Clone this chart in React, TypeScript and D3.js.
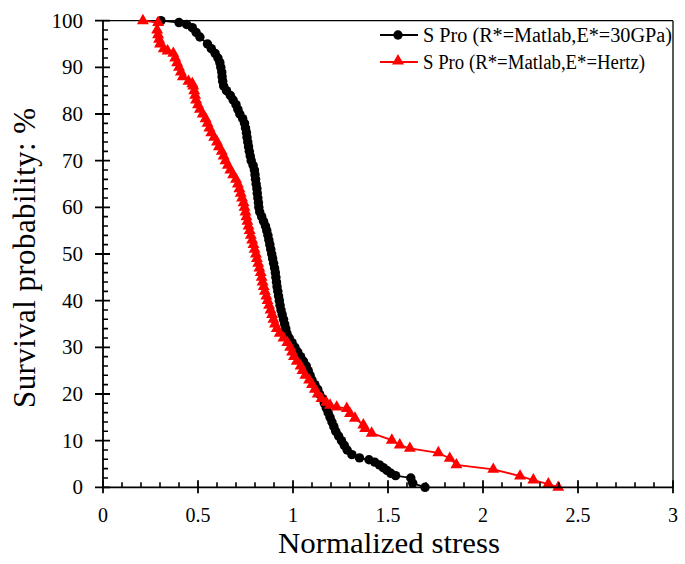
import React from "react";
import * as d3 from "d3";

// Black series: S Pro (R*=Matlab,E*=30GPa)
const blackX = [
  0.305, 0.4, 0.44, 0.47, 0.49, 0.51, 0.55, 0.57, 0.59, 0.605, 0.615, 0.62, 0.625, 0.627, 0.63, 0.635,
  0.65, 0.67, 0.685, 0.7, 0.71, 0.72, 0.735, 0.745, 0.75, 0.755, 0.758, 0.762, 0.766, 0.77, 0.775,
  0.78, 0.79, 0.797, 0.8, 0.803, 0.806, 0.81, 0.812, 0.815, 0.818, 0.82, 0.825, 0.835, 0.845, 0.855,
  0.862, 0.868, 0.873, 0.878, 0.883, 0.888, 0.893, 0.898, 0.903, 0.907, 0.91, 0.913, 0.916, 0.92,
  0.924, 0.928, 0.932, 0.937, 0.943, 0.95, 0.956, 0.962, 0.968, 0.98, 0.995, 1.01, 1.025, 1.04,
  1.055, 1.07, 1.08, 1.09, 1.1, 1.115, 1.13, 1.14, 1.155, 1.165, 1.175, 1.185, 1.195, 1.205, 1.215,
  1.225, 1.24, 1.255, 1.27, 1.285, 1.31, 1.35, 1.4, 1.43, 1.455, 1.475, 1.495, 1.515, 1.54, 1.62,
  1.63, 1.695,
];
const blackY = [
  100, 99.6, 99.2, 98.5, 97.5, 96.5, 95, 94, 93, 92, 91, 90, 89, 88, 87, 86,
  85, 84, 83, 82, 81, 80, 79, 78, 77, 76, 75, 74, 73, 72, 71,
  70, 69, 68, 67, 66, 65, 64, 63, 62, 61, 60, 59, 58, 57, 56,
  55, 54, 53, 52, 51, 50, 49, 48, 47, 46, 45, 44, 43, 42,
  41, 40, 39, 38, 37, 36, 35, 34, 33, 32, 31, 30, 29, 28,
  27, 26, 25, 24, 23, 22, 21, 20, 19, 18, 17, 16, 15, 14, 13,
  12, 11, 10, 9, 8, 7, 6.3, 5.9, 5.4, 4.8, 4.2, 3.6, 3.0, 2.5, 2.0,
  0.9, 0,
];

// Red series: S Pro (R*=Matlab,E*=Hertz)
const redX = [
  0.21, 0.29, 0.285, 0.29, 0.295, 0.3, 0.32, 0.34, 0.37, 0.38, 0.39, 0.4, 0.41, 0.42, 0.45,
  0.47, 0.475, 0.48, 0.485, 0.49, 0.5, 0.51, 0.525, 0.54, 0.55, 0.56, 0.57, 0.585, 0.6, 0.61,
  0.625, 0.635, 0.645, 0.657, 0.67, 0.685, 0.7, 0.71, 0.718, 0.725, 0.732, 0.74, 0.745, 0.75,
  0.755, 0.76, 0.766, 0.772, 0.778, 0.785, 0.792, 0.798, 0.805, 0.81, 0.817, 0.823, 0.83, 0.835,
  0.84, 0.846, 0.852, 0.86, 0.866, 0.874, 0.882, 0.89, 0.897, 0.905, 0.915, 0.93, 0.95, 0.97,
  0.985, 0.995, 1.005, 1.02, 1.04, 1.05, 1.065, 1.085, 1.1, 1.115, 1.13, 1.15, 1.175, 1.195, 1.23,
  1.283, 1.3, 1.326, 1.37, 1.38, 1.414, 1.52, 1.562, 1.615, 1.765, 1.825, 1.86, 2.054, 2.195,
  2.265, 2.344, 2.396,
];
const redY = [
  100, 99.6, 98, 97, 96, 95, 94, 93.5, 93, 92, 91, 90, 89, 88, 87,
  86.5, 86, 85, 84, 83, 82, 81, 80, 79, 78, 77, 76, 75, 74, 73,
  72, 71, 70, 69, 68, 67, 66, 65, 64, 63, 62, 61, 60, 59,
  58, 57, 56, 55, 54, 53, 52, 51, 50, 49, 48, 47, 46, 45,
  44, 43, 42, 41, 40, 39, 38, 37, 36, 35, 34, 33, 32, 31,
  30, 29, 28, 27, 26, 25, 24, 23, 22, 21, 20, 19, 18.2, 17.6, 17.2,
  16.9, 15.8, 14.8, 13.35, 12.6, 11.6, 10.1, 9.06, 8.35, 7.4, 6.2, 4.8, 3.86, 2.4,
  1.56, 0.7, 0,
];

const xTicks = [0, 0.5, 1, 1.5, 2, 2.5, 3];
const yTicks = [0, 10, 20, 30, 40, 50, 60, 70, 80, 90, 100];
const legendLabels = ["S Pro (R*=Matlab,E*=30GPa)", "S Pro (R*=Matlab,E*=Hertz)"];

const W = 685;
const H = 564;
const FONT = "'Liberation Serif', 'Times New Roman', serif";

export default function App() {
  const x = d3.scaleLinear().domain([0, 3]).range([103, 673]);
  const y = d3.scaleLinear().domain([0, 100]).range([487.3, 20.7]);

  const black = blackX.map((v, i) => [v, blackY[i]] as [number, number]);
  const red = redX.map((v, i) => [v, redY[i]] as [number, number]);

  const line = d3
    .line<[number, number]>()
    .x((d) => x(d[0]))
    .y((d) => y(d[1]));

  const circle = d3.symbol().type(d3.symbolCircle).size(70)()!;
  const tri = d3.symbol().type(d3.symbolTriangle).size(62)()!;

  const xMinor = d3.range(0, 31).map((i) => i / 10).filter((v) => Math.abs(v * 2 - Math.round(v * 2)) > 1e-6);
  const yMinor = d3.range(0, 101, 2).filter((v) => v % 10 !== 0);

  const x0 = x(0);
  const y0 = y(0);

  // tick paths
  const yMajorPath = yTicks.map((t) => `M${x0 - 8},${y(t)}H${x0 + 7}`).join("");
  const yMinorPath = yMinor.map((t) => `M${x0},${y(t)}H${x0 + 5}`).join("");
  const xMajorPath = xTicks.map((t) => `M${x(t)},${y0 - 7}V${y0 + 6}`).join("");
  const xMinorPath = xMinor.map((t) => `M${x(t)},${y0 - 5}V${y0}`).join("");

  return (
    <svg
      width={W}
      height={H}
      style={{ position: "absolute", left: 0, top: 0, background: "#fff" }}
      fontFamily={FONT}
    >
      <rect width={W} height={H} fill="#fff" />
      {/* frame top/right */}
      <line x1={x0} x2={x(3)} y1={y(100)} y2={y(100)} stroke="#000" strokeWidth={1.3} />
      <line x1={x(3)} x2={x(3)} y1={y(100)} y2={y0} stroke="#000" strokeWidth={1.3} />

      {/* series */}
      <path d={line(black)!} fill="none" stroke="#000" strokeWidth={1.8} />
      {black.map((d, i) => (
        <path key={"b" + i} d={circle} transform={`translate(${x(d[0])},${y(d[1])})`} fill="#000" />
      ))}
      <path d={line(red)!} fill="none" stroke="#ff0000" strokeWidth={1.8} />
      {red.map((d, i) => (
        <path key={"r" + i} d={tri} transform={`translate(${x(d[0])},${y(d[1])})`} fill="#ff0000" />
      ))}

      {/* axes */}
      <line x1={x0} x2={x0} y1={y(100)} y2={y0 + 0.5} stroke="#000" strokeWidth={1.8} />
      <line x1={x0 - 0.5} x2={x(3)} y1={y0} y2={y0} stroke="#000" strokeWidth={1.8} />
      <path d={yMajorPath} stroke="#000" strokeWidth={1.8} fill="none" />
      <path d={yMinorPath} stroke="#000" strokeWidth={1.6} fill="none" />
      <path d={xMajorPath} stroke="#000" strokeWidth={1.8} fill="none" />
      <path d={xMinorPath} stroke="#000" strokeWidth={1.6} fill="none" />
      {yTicks.map((t) => (
        <text key={"yl" + t} x={83} y={y(t) + 7} textAnchor="end" fontSize={21} fill="#000">
          {t}
        </text>
      ))}
      {xTicks.map((t) => (
        <text key={"xl" + t} x={x(t)} y={522} textAnchor="middle" fontSize={20} fill="#000">
          {t}
        </text>
      ))}

      {/* axis titles */}
      <text x={389} y={553} textAnchor="middle" fontSize={29} fill="#000" textLength={222} lengthAdjust="spacingAndGlyphs">
        Normalized stress
      </text>
      <text
        transform={`translate(35,258) rotate(-90)`}
        textAnchor="middle"
        fontSize={31}
        fill="#000"
        textLength={300}
        lengthAdjust="spacing"
      >
        Survival probability: %
      </text>

      {/* legend */}
      <line x1={380} x2={418} y1={35} y2={35} stroke="#000" strokeWidth={1.8} />
      <path d={circle} transform="translate(398,35)" fill="#000" />
      <text x={423} y={42} fontSize={20} fill="#000" textLength={249} lengthAdjust="spacingAndGlyphs">
        {legendLabels[0]}
      </text>
      <line x1={380} x2={418} y1={62} y2={62} stroke="#ff0000" strokeWidth={1.8} />
      <path d={tri} transform="translate(398,61)" fill="#ff0000" />
      <text x={423} y={69} fontSize={20} fill="#000" textLength={222} lengthAdjust="spacingAndGlyphs">
        {legendLabels[1]}
      </text>
    </svg>
  );
}
